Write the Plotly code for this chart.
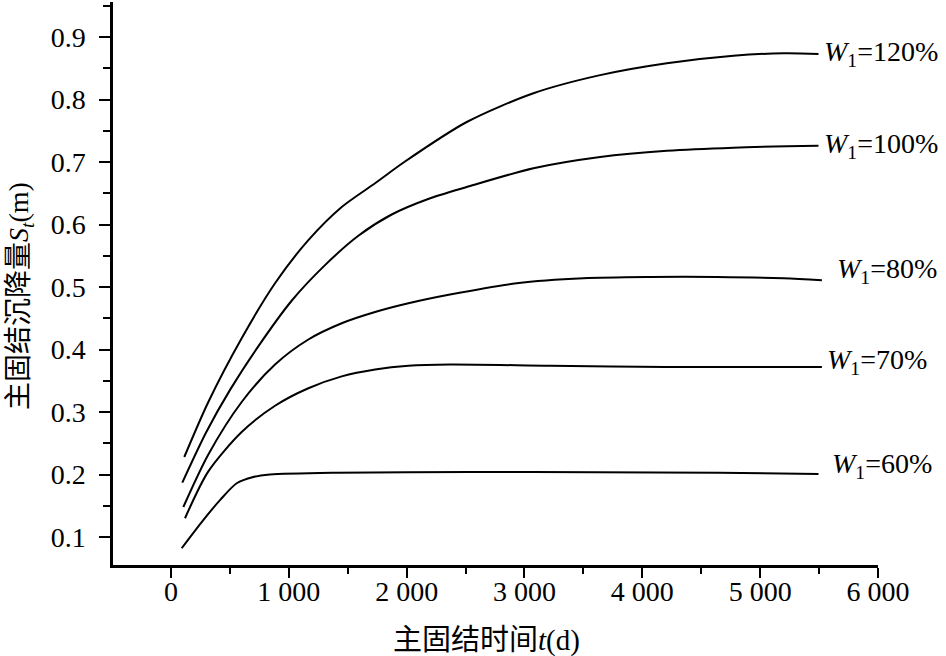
import plotly.graph_objects as go

# ---- data ----
t_120 = [113, 317, 600, 883, 1166, 1449, 1732, 1980, 2510, 3076, 3642, 4208, 4773, 5200, 5495]
s_120 = [0.228, 0.316, 0.418, 0.506, 0.575, 0.628, 0.666, 0.700, 0.764, 0.810, 0.839, 0.858, 0.870, 0.874, 0.873]

t_100 = [96, 300, 500, 741, 1024, 1307, 1590, 1873, 2200, 2510, 3076, 3642, 4208, 4773, 5495]
s_100 = [0.187, 0.268, 0.335, 0.405, 0.478, 0.535, 0.582, 0.616, 0.642, 0.660, 0.690, 0.708, 0.718, 0.723, 0.726]

t_80 = [105, 317, 600, 883, 1166, 1449, 1732, 2015, 2368, 2934, 3500, 4066, 4632, 5198, 5524]
s_80 = [0.148, 0.232, 0.316, 0.376, 0.416, 0.442, 0.460, 0.474, 0.488, 0.506, 0.514, 0.516, 0.516, 0.514, 0.511]

t_70 = [119, 317, 600, 883, 1166, 1449, 1732, 2015, 2368, 3217, 4200, 5524]
s_70 = [0.130, 0.205, 0.268, 0.310, 0.338, 0.357, 0.368, 0.374, 0.376, 0.374, 0.372, 0.372]

t_60 = [91, 274, 416, 558, 699, 840, 1407, 2538, 3600, 4650, 5495]
s_60 = [0.082, 0.127, 0.159, 0.186, 0.196, 0.200, 0.203, 0.204, 0.2035, 0.203, 0.201]

series_labels = ["<i>W</i><sub>1</sub>=120%", "<i>W</i><sub>1</sub>=100%",
                 "<i>W</i><sub>1</sub>=80%", "<i>W</i><sub>1</sub>=70%",
                 "<i>W</i><sub>1</sub>=60%"]
label_pos = [(5526, 0.874), (5526, 0.726), (5637, 0.526), (5552, 0.381), (5594, 0.214)]

x_tickvals = [0, 1000, 2000, 3000, 4000, 5000, 6000]
x_ticktext = ["0", "1 000", "2 000", "3 000", "4 000", "5 000", "6 000"]
y_tickvals = [0.1, 0.2, 0.3, 0.4, 0.5, 0.6, 0.7, 0.8, 0.9]
y_ticktext = ["0.1", "0.2", "0.3", "0.4", "0.5", "0.6", "0.7", "0.8", "0.9"]

x_title = "主固结时间<i>t</i>(d)"
y_title = "主固结沉降量<i>S</i><sub><i>t</i></sub>(m)"

FONT = "Liberation Serif, Noto Sans CJK SC"
FS = 28

fig = go.Figure()
for tx, sy in [(t_120, s_120), (t_100, s_100), (t_80, s_80), (t_70, s_70), (t_60, s_60)]:
    fig.add_trace(go.Scatter(x=tx, y=sy, mode="lines",
                             line=dict(color="black", width=2, shape="spline", smoothing=0.8),
                             showlegend=False, hoverinfo="skip"))

for txt, (lx, ly) in zip(series_labels, label_pos):
    fig.add_annotation(x=lx, y=ly, text=txt, showarrow=False, xanchor="left", yanchor="middle",
                       font=dict(family=FONT, size=FS, color="black"))

# axis titles as annotations for precise placement
fig.add_annotation(xref="paper", yref="paper", x=(486 - 113) / 765, y=(565 - 640) / 563,
                   text=x_title, showarrow=False, xanchor="center", yanchor="middle",
                   font=dict(family=FONT, size=29, color="black"))
fig.add_annotation(xref="paper", yref="paper", x=(20 - 113) / 765, y=(565 - 296) / 563,
                   text=y_title, showarrow=False, xanchor="center", yanchor="middle", textangle=-90,
                   font=dict(family=FONT, size=28, color="black"))

axis_common = dict(showline=True, linecolor="black", linewidth=2.5, ticks="outside",
                   tickcolor="black", tickwidth=2, showgrid=False, zeroline=False,
                   tickfont=dict(family=FONT, size=FS, color="black"), mirror=False)

fig.update_xaxes(range=[-492, 6000], tickmode="array", tickvals=x_tickvals, ticktext=x_ticktext,
                 ticklen=10,
                 minor=dict(tickmode="linear", tick0=500, dtick=1000, ticks="outside", ticklen=6,
                            tickwidth=2, tickcolor="black"),
                 ticklabelstandoff=-10,
                 **axis_common)
fig.update_yaxes(range=[0.0552, 0.956], tickmode="array", tickvals=y_tickvals, ticktext=y_ticktext,
                 ticklen=11,
                 minor=dict(tickmode="linear", tick0=0.05, dtick=0.1, ticks="outside", ticklen=7,
                            tickwidth=2, tickcolor="black"),
                 ticklabelstandoff=8,
                 **axis_common)

fig.update_layout(width=946, height=656, margin=dict(l=113, r=68, t=2, b=91),
                  plot_bgcolor="white", paper_bgcolor="white",
                  font=dict(family=FONT, color="black"))

fig.write_html("out.html")
